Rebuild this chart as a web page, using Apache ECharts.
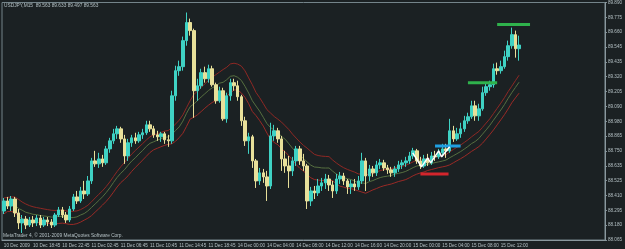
<!DOCTYPE html>
<html>
<head>
<meta charset="utf-8">
<title>USDJPY,M15</title>
<script src="https://cdn.jsdelivr.net/npm/echarts@6/dist/echarts.min.js"></script>
<style>
  html, body { margin: 0; padding: 0; background: #1b2123; }
  #main { width: 625px; height: 249px; }
</style>
</head>
<body>
<div id="main"></div>
<script>
// candles (30 min steps), [open, close, low, high] split in arrays
var opens = [
  88.288,88.365,88.326,88.380,88.273,88.196,88.226,88.180,88.219,88.196,
  88.234,88.180,88.219,88.203,88.180,88.257,88.296,88.257,88.219,88.303,
  88.396,88.365,88.442,88.419,88.519,88.673,88.650,88.688,88.658,88.765,
  88.827,88.881,88.919,88.842,88.711,88.812,88.850,88.827,88.873,88.889,
  88.950,88.919,88.873,88.858,88.881,88.835,88.827,89.173,89.366,89.397,
  89.597,89.736,89.674,89.212,89.250,89.351,89.304,89.381,89.258,89.135,
  89.212,88.996,89.173,89.274,89.250,89.166,88.981,88.827,88.858,88.673,
  88.519,88.581,88.550,88.480,88.865,88.904,88.842,88.688,88.634,88.596,
  88.673,88.765,88.673,88.634,88.365,88.442,88.427,88.480,88.504,88.534,
  88.488,88.442,88.534,88.557,88.519,88.473,88.496,88.473,88.519,88.673,
  88.557,88.611,88.581,88.642,88.658,88.619,88.604,88.581,88.611,88.642,
  88.658,88.673,88.711,88.750,88.673,88.634,88.688,88.658,88.711,88.704,
  88.735,88.765,88.750,88.904,88.842,88.881,88.919,88.981,89.012,89.096,
  89.019,89.073,89.197,89.243,89.258,89.381,89.366,89.397,89.474,89.558,
  89.643,89.535
];
var closes = [
  88.365,88.326,88.380,88.273,88.196,88.226,88.180,88.219,88.196,88.234,
  88.180,88.219,88.203,88.180,88.257,88.296,88.257,88.219,88.303,88.396,
  88.365,88.442,88.419,88.519,88.673,88.650,88.688,88.658,88.765,88.827,
  88.881,88.919,88.842,88.711,88.812,88.850,88.827,88.873,88.889,88.950,
  88.919,88.873,88.858,88.881,88.835,88.827,89.173,89.366,89.397,89.597,
  89.736,89.674,89.212,89.250,89.351,89.304,89.381,89.258,89.135,89.212,
  88.996,89.173,89.274,89.250,89.166,88.981,88.827,88.858,88.673,88.519,
  88.581,88.550,88.480,88.865,88.904,88.842,88.688,88.634,88.596,88.673,
  88.765,88.673,88.634,88.365,88.442,88.427,88.480,88.504,88.534,88.488,
  88.442,88.534,88.557,88.519,88.473,88.496,88.473,88.519,88.673,88.557,
  88.611,88.581,88.642,88.658,88.619,88.604,88.581,88.611,88.642,88.658,
  88.673,88.711,88.750,88.673,88.634,88.688,88.658,88.711,88.704,88.735,
  88.765,88.750,88.904,88.842,88.881,88.919,88.981,89.012,89.096,89.019,
  89.073,89.197,89.243,89.258,89.381,89.366,89.397,89.474,89.558,89.643,
  89.535,89.563
];
var lows = [
  88.265,88.303,88.288,88.242,88.149,88.119,88.149,88.165,88.165,88.172,
  88.157,88.165,88.172,88.157,88.165,88.242,88.234,88.196,88.203,88.288,
  88.342,88.350,88.380,88.403,88.496,88.627,88.619,88.627,88.642,88.735,
  88.804,88.842,88.812,88.650,88.673,88.781,88.804,88.812,88.842,88.873,
  88.896,88.850,88.827,88.819,88.804,88.781,88.804,89.135,89.327,89.366,
  89.558,89.635,89.004,89.135,89.227,89.274,89.274,89.243,89.112,89.120,
  88.981,88.966,89.135,89.212,89.135,88.942,88.788,88.727,88.619,88.465,
  88.488,88.504,88.365,88.457,88.827,88.812,88.596,88.581,88.465,88.557,
  88.634,88.642,88.596,88.303,88.326,88.380,88.403,88.442,88.457,88.442,
  88.388,88.419,88.496,88.488,88.419,88.419,88.442,88.450,88.496,88.442,
  88.519,88.550,88.557,88.611,88.596,88.573,88.550,88.550,88.588,88.611,
  88.627,88.650,88.688,88.650,88.611,88.619,88.634,88.642,88.673,88.688,
  88.704,88.696,88.735,88.819,88.827,88.850,88.896,88.958,88.996,88.981,
  88.981,89.058,89.173,89.212,89.235,89.335,89.343,89.381,89.443,89.535,
  89.466,89.443
];
var highs = [
  88.388,88.396,88.403,88.396,88.303,88.257,88.249,88.242,88.249,88.257,
  88.257,88.242,88.242,88.226,88.273,88.319,88.319,88.280,88.326,88.419,
  88.442,88.473,88.519,88.557,88.696,88.750,88.735,88.719,88.788,88.850,
  88.919,88.942,88.935,88.873,88.842,88.873,88.889,88.896,88.919,88.981,
  88.981,88.942,88.904,88.896,88.896,88.873,89.212,89.404,89.443,89.628,
  89.813,89.766,89.689,89.304,89.381,89.397,89.412,89.404,89.274,89.243,
  89.235,89.197,89.304,89.304,89.289,89.181,89.012,88.889,88.873,88.688,
  88.619,88.611,88.596,88.966,88.950,88.927,88.865,88.750,88.711,88.704,
  88.788,88.788,88.727,88.650,88.473,88.480,88.534,88.542,88.573,88.565,
  88.519,88.573,88.588,88.581,88.534,88.527,88.534,88.557,88.735,88.696,
  88.642,88.634,88.673,88.688,88.681,88.642,88.627,88.634,88.673,88.681,
  88.704,88.742,88.773,88.765,88.704,88.719,88.727,88.742,88.750,88.765,
  88.804,88.804,88.996,88.942,88.927,88.966,89.019,89.043,89.135,89.135,
  89.112,89.243,89.274,89.289,89.420,89.428,89.443,89.520,89.597,89.697,
  89.674,89.635
];

var timeLabels = ['10 Dec 2009','10 Dec 18:45','10 Dec 22:45','11 Dec 02:45','11 Dec 06:45',
  '11 Dec 10:45','11 Dec 14:45','11 Dec 18:45','14 Dec 00:00','14 Dec 04:00','14 Dec 08:00',
  '14 Dec 12:00','14 Dec 16:00','14 Dec 20:00','15 Dec 00:00','15 Dec 04:00','15 Dec 08:00',
  '15 Dec 12:00'];
// price scale labels, bottom to top
var priceLabels = ['88.065','88.180','88.295','88.410','88.525','88.635','88.750','88.865',
  '88.980','89.090','89.205','89.320','89.435','89.545','89.660','89.775','89.890'];

// hand drawn objects: [candle index, price]
var levelHigh = [[135, 89.720], [144, 89.720]];
var levelMid = [[127, 89.274], [135, 89.274]];
var levelBlue = [[118, 88.788], [125, 88.788]];
var levelRed = [[114, 88.573], [121.7, 88.573]];
var zigzag = [[111.9, 88.735], [114.3, 88.627], [116.0, 88.696], [116.8, 88.658],
  [119.0, 88.750], [119.8, 88.704], [122.0, 88.781]];

// moving average channel: MA of highs, closes and lows
var maPeriod = 17;

var SLOTS = 165;   // chart shift leaves empty room on the right
var LABEL_STEP = 8;

var candles = opens.map(function (o, i) { return [o, closes[i], lows[i], highs[i]]; });
var cats = [];
for (var i = 0; i < SLOTS; i++) cats.push(String(i));

function movingAverage(values, period) {
  return values.map(function (c, i) {
    var from = Math.max(0, i - period + 1), sum = 0;
    for (var k = from; k <= i; k++) sum += values[k];
    return +(sum / (i - from + 1)).toFixed(4);
  });
}

var txt = '#b4c0c4';
var font = 'Liberation Sans';

var myChart = echarts.init(document.getElementById('main'));

function seg(data, color, width) {
  return {
    type: 'line', xAxisIndex: 1, yAxisIndex: 0, data: data, symbol: 'none',
    silent: true, z: 5, lineStyle: { color: color, width: width }
  };
}

myChart.setOption({
  animation: false,
  backgroundColor: '#1b2123',
  grid: { left: 2, right: 18, top: 2, bottom: 9, show: true, borderColor: '#74848a', borderWidth: 1 },
  xAxis: [{
    type: 'category', data: cats, boundaryGap: true,
    axisLine: { lineStyle: { color: '#8a989e' } },
    axisTick: {
      length: 2, lineStyle: { color: '#8a989e' },
      interval: function (idx) { return idx % LABEL_STEP === 0 && idx / LABEL_STEP < timeLabels.length; }
    },
    axisLabel: {
      color: txt, fontSize: 4.6, fontFamily: font, align: 'left', margin: 3,
      interval: function (idx) { return idx % LABEL_STEP === 0 && idx / LABEL_STEP < timeLabels.length; },
      formatter: function (v, idx) { return timeLabels[idx / LABEL_STEP] || ''; }
    },
    splitLine: { show: false }
  }, {
    type: 'value', min: -0.5, max: SLOTS - 0.5, show: false
  }],
  yAxis: [{
    type: 'value', min: 88.065, max: 89.890, position: 'left', show: false,
    splitLine: { show: false }, scale: true
  }, {
    type: 'value', min: 0, max: 16, interval: 1, position: 'right',
    axisLine: { show: true, lineStyle: { color: '#8a989e' } },
    axisTick: { show: true, length: 2, lineStyle: { color: '#8a989e' } },
    splitLine: { show: false },
    axisLabel: {
      color: txt, fontSize: 4.6, fontFamily: font, margin: 3,
      formatter: function (v) { return priceLabels[v]; }
    }
  }],
  graphic: [
    { type: 'text', left: 4, top: 3, style: { text: 'USDJPY,M15  89.563 89.633 89.497 89.563', fill: txt, font: '4.8px ' + font } },
    { type: 'text', left: 3, top: 233, style: { text: 'MetaTrader 4, \u00a9 2001-2009 MetaQuotes Software Corp.', fill: txt, font: '4.8px ' + font } }
  ],
  series: [
    { type: 'line', data: movingAverage(highs, maPeriod), symbol: 'none', silent: true, lineStyle: { color: '#8e2824', width: 1 } },
    { type: 'line', data: movingAverage(closes, maPeriod), symbol: 'none', silent: true, lineStyle: { color: '#566f40', width: 1 } },
    { type: 'line', data: movingAverage(lows, maPeriod), symbol: 'none', silent: true, lineStyle: { color: '#9a2a26', width: 1 } },
    {
      type: 'candlestick', data: candles, barWidth: 3, z: 3,
      itemStyle: {
        color: '#3fd2c4', color0: '#e8e09a',
        borderColor: '#3fd2c4', borderColor0: '#e8e09a', borderWidth: 1
      },
      markLine: {
        silent: true, symbol: 'none', animation: false,
        lineStyle: { opacity: 0 },
        label: {
          position: 'end', distance: 2, color: '#12191b', backgroundColor: '#9fb4bb',
          fontSize: 4.8, fontFamily: font, padding: [1, 1, 0, 1],
          formatter: function (p) { return p.value.toFixed(3); }
        },
        data: [{ yAxis: closes[closes.length - 1] }]
      }
    },
    seg(levelHigh, '#2fb24c', 3),
    seg(levelMid, '#2fb24c', 3),
    seg(levelBlue, '#1f9fe2', 3),
    seg(levelRed, '#d3252c', 3),
    seg(zigzag, '#ffffff', 1.5)
  ]
});
</script>
</body>
</html>
